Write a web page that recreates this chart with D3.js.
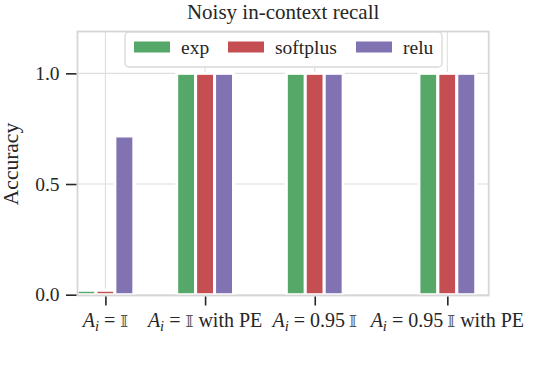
<!DOCTYPE html>
<html>
<head>
<meta charset="utf-8">
<script src="https://cdn.jsdelivr.net/npm/d3@7"></script>
<style>
  html, body { margin: 0; padding: 0; background: #fff; }
  svg { display: block; }
  text { font-family: "Liberation Serif", "DejaVu Serif", serif; fill: #262626; }
</style>
</head>
<body>
<svg id="chart" width="546" height="366"></svg>
<script>
// ---- data ----
const categories = ["A_i = I", "A_i = I with PE", "A_i = 0.95 I", "A_i = 0.95 I with PE"];
const labelCoef = ["", "", "0.95\u2009", "0.95\u2009"];
const labelSuffix = ["", " with PE", "", " with PE"];
const xPositions = [0, 1, 2.1, 3.43];
const seriesNames = ["exp", "softplus", "relu"];
const expValues = [0.02, 1.0, 1.0, 1.0];
const softplusValues = [0.02, 1.0, 1.0, 1.0];
const reluValues = [0.717, 1.0, 1.0, 1.0];
const yTicks = [0.0, 0.5, 1.0];
const title = "Noisy in-context recall";
const yLabel = "Accuracy";

const series = [expValues, softplusValues, reluValues];
const colors = ["#55A868", "#C44E52", "#8172B2"];

// ---- layout ----
const svg = d3.select("#chart");
const L = 77.5, R = 488.7, T = 31.5, B = 295.5;
const x = d3.scaleLinear().domain([-0.28, 3.845]).range([L, R]);
const y = d3.scaleLinear().domain([-0.0036, 1.189]).range([B, T]);
const slot = 0.19; // bar width in x units

// grid
const g = svg.append("g");
g.selectAll("line.vg").data(xPositions).join("line")
  .attr("x1", d => x(d)).attr("x2", d => x(d)).attr("y1", T).attr("y2", B)
  .attr("stroke", "#dedede").attr("stroke-width", 1.1);
g.selectAll("line.hg").data(yTicks).join("line")
  .attr("x1", L).attr("x2", R).attr("y1", d => y(d)).attr("y2", d => y(d))
  .attr("stroke", "#dedede").attr("stroke-width", 1.1);

// bars
series.forEach((vals, si) => {
  svg.append("g").selectAll("rect").data(vals).join("rect")
    .attr("x", (d, i) => x(xPositions[i] + (si - 1.5) * slot))
    .attr("width", x(slot) - x(0))
    .attr("y", d => y(d))
    .attr("height", d => y(0) - y(d))
    .attr("fill", colors[si])
    .attr("stroke", "#fff").attr("stroke-width", 3);
});

// frame
svg.append("rect").attr("x", L).attr("y", T).attr("width", R - L).attr("height", B - T)
  .attr("fill", "none").attr("stroke", "#d6d6d6").attr("stroke-width", 1.8);

// y axis ticks
const yAxis = d3.axisLeft(y).tickValues(yTicks).tickFormat(d3.format(".1f")).tickSize(10.5).tickPadding(6.5);
const ya = svg.append("g").attr("transform", `translate(${L - 1},0)`).call(yAxis);
ya.select(".domain").remove();
ya.selectAll(".tick line").attr("stroke", "#262626").attr("stroke-width", 1.6);
ya.selectAll(".tick text").attr("font-size", 19.5).attr("fill", "#262626")
  .style("font-family", "'Liberation Serif', serif");

// x axis ticks
const xAxis = d3.axisBottom(x).tickValues(xPositions).tickFormat("").tickSize(9);
const xa = svg.append("g").attr("transform", `translate(0,${B + 1})`).call(xAxis);
xa.select(".domain").remove();
xa.selectAll(".tick line").attr("stroke", "#262626").attr("stroke-width", 1.6);

// x labels (math-styled)
const xl = svg.append("g");
categories.forEach((c, i) => {
  const t = xl.append("text").attr("x", x(xPositions[i])).attr("y", 327)
    .attr("text-anchor", "middle").attr("font-size", 20);
  t.append("tspan").attr("font-style", "italic").text("A");
  t.append("tspan").attr("font-style", "italic").attr("font-size", 14.5).attr("dy", 4).text("i");
  t.append("tspan").attr("dy", -4).text(" = " + labelCoef[i]);
  t.append("tspan").style("font-family", "'DejaVu Serif', 'DejaVu Sans', serif").attr("font-size", 17).attr("fill", "#555").text("\uD835\uDD40");
  t.append("tspan").text(labelSuffix[i]);
});

// title
svg.append("text").attr("x", (L + R) / 2).attr("y", 18.5).attr("text-anchor", "middle")
  .attr("font-size", 21).text(title);

// y label
svg.append("text").attr("transform", `translate(18,${(y(0) + y(1)) / 2 - 20}) rotate(-90)`)
  .attr("text-anchor", "middle").attr("font-size", 21.5).text(yLabel);

// legend
const lg = svg.append("g");
lg.append("rect").attr("x", 125).attr("y", 32).attr("width", 317).attr("height", 35)
  .attr("rx", 4).attr("fill", "#fff").attr("fill-opacity", 0.9)
  .attr("stroke", "#d8d8d8").attr("stroke-width", 1.3);
const legendX = [134, 228, 356];
seriesNames.forEach((n, i) => {
  lg.append("rect").attr("x", legendX[i]).attr("y", 41.5).attr("width", 36).attr("height", 11)
    .attr("fill", colors[i]);
  lg.append("text").attr("x", legendX[i] + 47).attr("y", 53.5).attr("font-size", 19.5).text(n);
});
</script>
</body>
</html>
